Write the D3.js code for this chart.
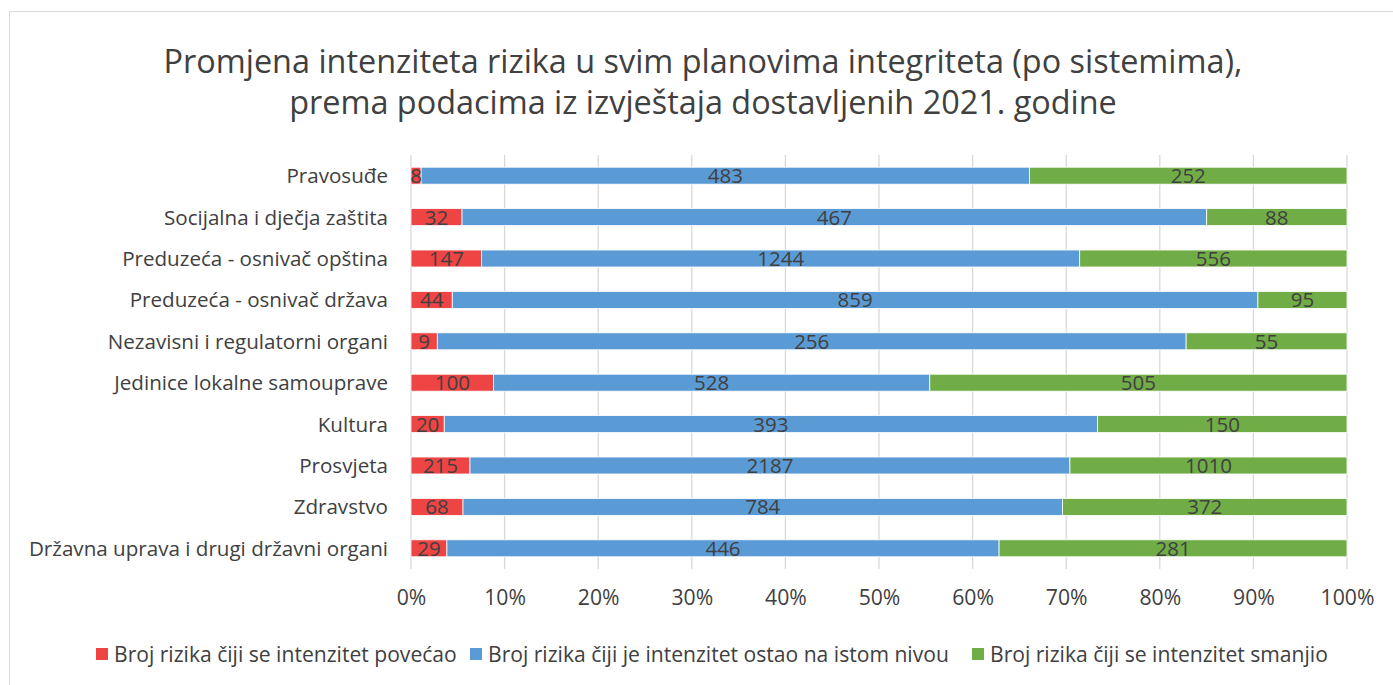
<!DOCTYPE html>
<html><head><meta charset="utf-8">
<script src="https://cdn.jsdelivr.net/npm/d3@7"></script>
<style>body{margin:0;background:#fff;font-family:"Open Sans",sans-serif;} svg{display:block}</style>
</head><body>
<svg id="c" width="1393" height="685"></svg>
<script>
const categories = ["Pravosuđe","Socijalna i dječja zaštita","Preduzeća - osnivač opština","Preduzeća - osnivač država","Nezavisni i regulatorni organi","Jedinice lokalne samouprave","Kultura","Prosvjeta","Zdravstvo","Državna uprava i drugi državni organi"];
const increased = [8,32,147,44,9,100,20,215,68,29];
const same = [483,467,1244,859,256,528,393,2187,784,446];
const decreased = [252,88,556,95,55,505,150,1010,372,281];
const seriesNames = ["Broj rizika čiji se intenzitet povećao","Broj rizika čiji je intenzitet ostao na istom nivou","Broj rizika čiji se intenzitet smanjio"];
const colors = ["#EF4444","#5B9BD5","#70AD47"];
const tickValues = [0,0.1,0.2,0.3,0.4,0.5,0.6,0.7,0.8,0.9,1];
const titleLines = ["Promjena intenziteta rizika u svim planovima integriteta (po sistemima),","prema podacima iz izvještaja dostavljenih 2021. godine"];

const FONT = "'Open Sans',sans-serif";
const svg = d3.select("#c").attr("font-family",FONT);
svg.append("rect").attr("x",9.5).attr("y",11.5).attr("width",1400).attr("height",700)
  .attr("fill","#fff").attr("stroke","#d9d9d9").attr("stroke-width",1);

svg.append("g").selectAll("text").data(titleLines).join("text")
  .attr("x",703).attr("y",(d,i)=>73+i*41).attr("text-anchor","middle")
  .attr("font-size",32.4).attr("fill","#404040").text(d=>d);

const x = d3.scaleLinear().domain([0,1]).range([411,1347]);
const y = d3.scaleBand().domain(categories).range([155,569]).paddingInner(0.59).paddingOuter(0.295);

svg.append("g").selectAll("line").data(tickValues).join("line")
  .attr("x1",d=>x(d)).attr("x2",d=>x(d)).attr("y1",155).attr("y2",569)
  .attr("stroke","#d9d9d9").attr("stroke-width",1.3);

const rows = categories.map((c,i)=>{const v=[increased[i],same[i],decreased[i]];const t=d3.sum(v);return {c,v,t};});
const stackData = rows.map(r=>({c:r.c,s0:r.v[0]/r.t,s1:r.v[1]/r.t,s2:r.v[2]/r.t,raw:r.v}));
const stack = d3.stack().keys(["s0","s1","s2"])(stackData);

stack.forEach((layer,k)=>{
  svg.append("g").selectAll("rect").data(layer).join("rect")
    .attr("x",d=>x(d[0])).attr("width",d=>x(d[1])-x(d[0]))
    .attr("y",d=>y(d.data.c)).attr("height",y.bandwidth())
    .attr("fill",colors[k]).attr("stroke","#fff").attr("stroke-width",0.8);
});
stack.forEach((layer,k)=>{
  svg.append("g").selectAll("text").data(layer).join("text")
    .attr("x",d=>(x(d[0])+x(d[1]))/2).attr("y",d=>y(d.data.c)+y.bandwidth()/2+7.5)
    .attr("text-anchor","middle").attr("font-size",20.5).attr("fill","#404040")
    .text(d=>d.data.raw[k]);
});

svg.append("g").selectAll("text").data(categories).join("text")
  .attr("x",388).attr("y",d=>y(d)+y.bandwidth()/2+7.5).attr("text-anchor","end")
  .attr("font-size",20.6).attr("fill","#404040").text(d=>d);

const xa = svg.append("g").attr("transform","translate(0,569)")
  .call(d3.axisBottom(x).tickValues(tickValues).tickFormat(d3.format(".0%")).tickSize(0).tickPadding(21));
xa.select(".domain").remove();
xa.selectAll("text").attr("font-size",21.2).attr("fill","#404040").attr("font-family",FONT);

const legX = [96,470,972];
const lg = svg.append("g").selectAll("g").data(seriesNames).join("g")
  .attr("transform",(d,i)=>`translate(${legX[i]},648)`);
lg.append("rect").attr("width",12).attr("height",12).attr("fill",(d,i)=>colors[i]);
lg.append("text").attr("x",18).attr("y",13.5).attr("font-size",21.1).attr("fill","#404040").text(d=>d);
</script>
</body></html>
